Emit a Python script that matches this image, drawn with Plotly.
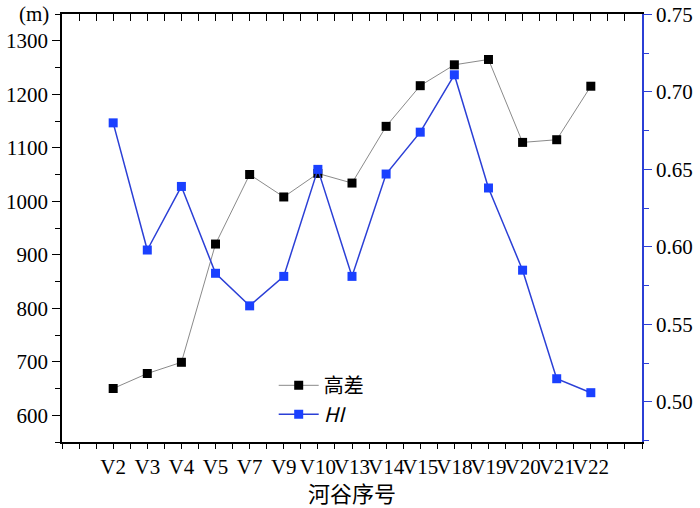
import plotly.graph_objects as go

categories = ["V2", "V3", "V4", "V5", "V7", "V9", "V10", "V13", "V14", "V15", "V18", "V19", "V20", "V21", "V22"]
relief_m = [650, 678, 699, 920, 1050, 1008, 1052, 1034, 1140, 1216, 1255, 1265, 1110, 1115, 1215]
hi_values = [0.680, 0.598, 0.639, 0.583, 0.562, 0.581, 0.650, 0.581, 0.647, 0.674, 0.711, 0.638, 0.585, 0.515, 0.506]
left_ticks = [600, 700, 800, 900, 1000, 1100, 1200, 1300]
right_ticks = [0.50, 0.55, 0.60, 0.65, 0.70, 0.75]

xpos = list(range(len(categories)))
FONT = "Liberation Serif, Noto Sans CJK SC, serif"
CJK = "Noto Sans CJK SC, Liberation Serif"
BLUE_LINE = "#2b3fd6"
BLUE_MK = "#1a40ff"

fig = go.Figure()
fig.add_trace(go.Scatter(
    x=xpos, y=relief_m, name="高差", mode="lines+markers",
    line=dict(color="#8a8a8a", width=1),
    marker=dict(symbol="square", size=9, color="black"),
    xaxis="x", yaxis="y",
))
fig.add_trace(go.Scatter(
    x=xpos, y=hi_values, name="<i>HI</i>", mode="lines+markers",
    line=dict(color=BLUE_LINE, width=1.5),
    marker=dict(symbol="square", size=9, color=BLUE_MK),
    xaxis="x2", yaxis="y2",
))

xr = [-1.5, 15.5]
fig.update_layout(
    width=700, height=508,
    margin=dict(l=62, r=58, t=14, b=66, autoexpand=False),
    paper_bgcolor="white", plot_bgcolor="white",
    font=dict(family=FONT, size=20, color="black"),
    showlegend=True,
    legend=dict(x=0.365, y=0.178, xanchor="left", yanchor="top",
                bgcolor="rgba(0,0,0,0)", font=dict(family=CJK, size=20),
                tracegroupgap=0, itemwidth=40),
    xaxis=dict(
        range=xr, tickmode="array", tickvals=xpos, ticktext=categories, automargin=False,
        tickangle=0, ticks="outside", ticklen=5, tickwidth=1, tickcolor="black",
        showline=True, linecolor="black", linewidth=1.5, showgrid=False, zeroline=False,
        tickfont=dict(family=FONT, size=21),
        minor=dict(dtick=0.5, tick0=0, ticks="outside", ticklen=5, tickcolor="black", showgrid=False),
    ),
    xaxis2=dict(
        range=xr, overlaying="x", side="top", anchor="y", showticklabels=False, automargin=False,
        tickmode="linear", tick0=0, dtick=0.5, ticks="inside", ticklen=7, tickcolor="black",
        showline=True, linecolor="black", linewidth=1.5, showgrid=False, zeroline=False,
    ),
    yaxis=dict(
        range=[550, 1350], tickmode="array", tickvals=left_ticks, automargin=False,
        ticks="outside", ticklen=8, tickwidth=1, tickcolor="black",
        minor=dict(dtick=50, tick0=550, ticks="outside", ticklen=5, tickcolor="black", showgrid=False),
        showline=True, linecolor="black", linewidth=1.5, showgrid=False, zeroline=False,
        tickfont=dict(family=FONT, size=21), ticklabeloverflow="allow",
    ),
    yaxis2=dict(
        range=[0.4742, 0.7502], overlaying="y", side="right", anchor="x2", automargin=False,
        tickmode="array", tickvals=right_ticks, ticktext=[f"{v:.2f}" for v in right_ticks],
        ticks="outside", ticklen=8, tickwidth=1, tickcolor=BLUE_LINE,
        minor=dict(dtick=0.025, tick0=0.5, ticks="outside", ticklen=5, tickcolor=BLUE_LINE, showgrid=False),
        showline=True, linecolor=BLUE_LINE, linewidth=1.5, showgrid=False, zeroline=False,
        tickfont=dict(family=FONT, size=21), ticklabeloverflow="allow",
    ),
    annotations=[
        dict(text="(m)", x=0, y=1.0, xref="paper", yref="paper",
             xanchor="right", yanchor="middle", xshift=-11, showarrow=False,
             font=dict(family=FONT, size=21)),
        dict(text="河谷序号", x=0.5, y=0, xref="paper", yref="paper",
             xanchor="center", yanchor="middle", yshift=-50, showarrow=False,
             font=dict(family=CJK, size=22)),
    ],
)

fig.write_html("out.html", config={"displayModeBar": False},
               post_script="document.body.style.margin='0px';")
